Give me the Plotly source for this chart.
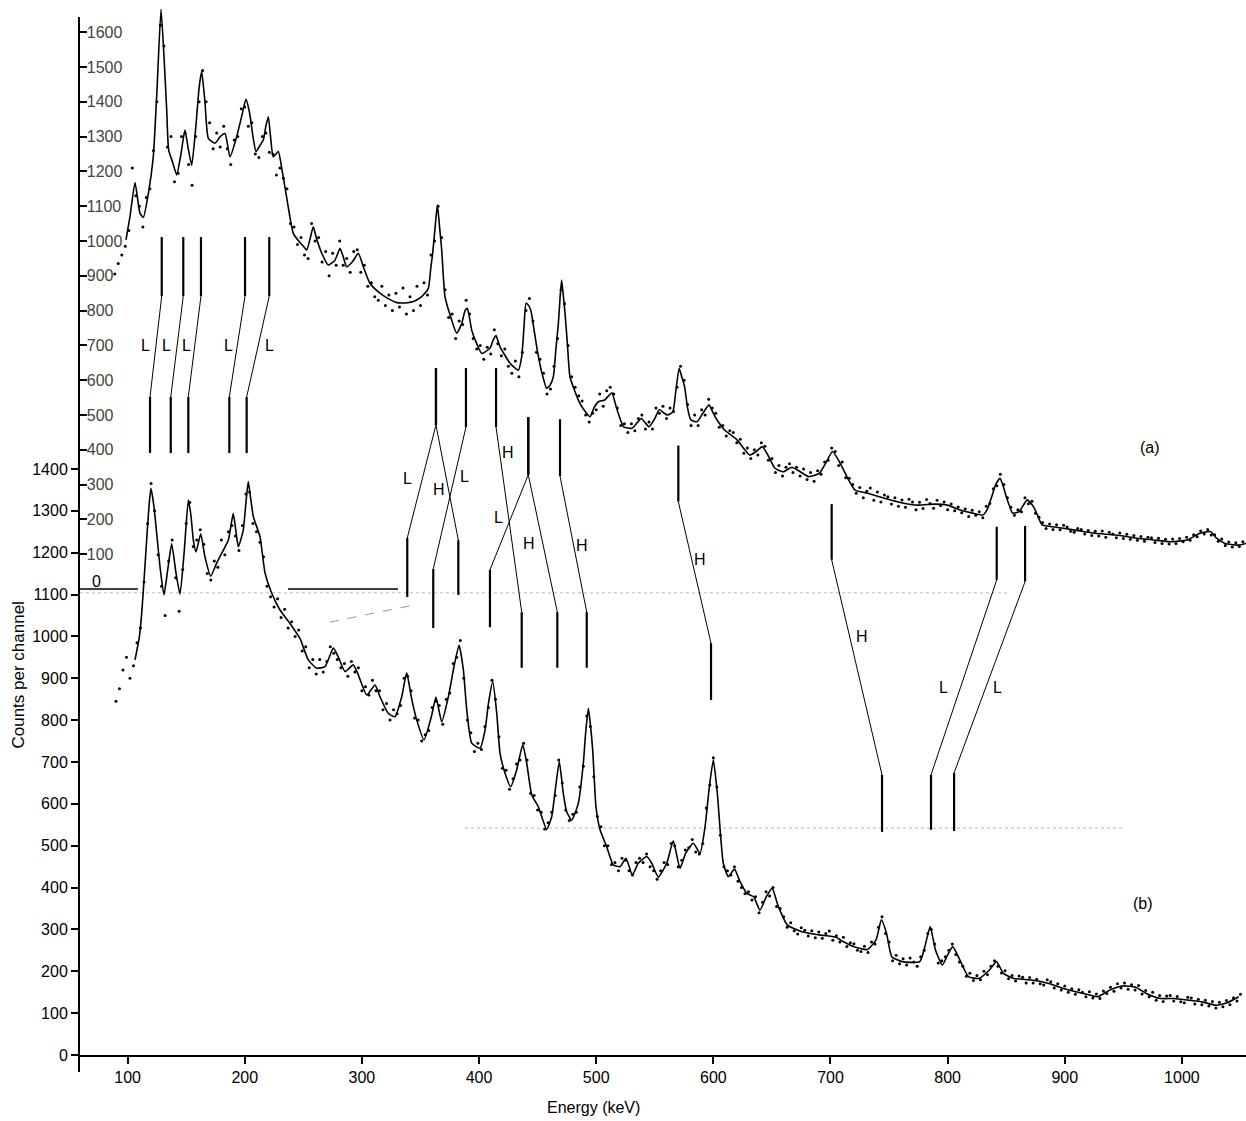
import plotly.graph_objects as go

# ---------------- data ----------------
# Spectrum (a): fitted curve (energy keV, counts per channel on the inner scale)
a_curve_energy = [98.6, 102, 106.3, 110.5, 113.4, 117.7, 121.9, 125.0, 128.5, 131.5,
                  133.3, 135.0, 138.5, 141.9, 145.5, 148.9, 151.5, 154.7, 158.0, 161.0,
                  163.2, 166.0, 168.9, 174.6, 179.0, 183.1, 187.4, 193.1, 197.5, 201.0,
                  204.0, 207.0, 209.6, 213.0, 215.8, 218.0, 220.1, 222.0, 224.3, 228.6,
                  232.0, 236.0, 241.4, 246.0, 250.0, 252.9, 256.0, 258.5, 261.0, 265.7,
                  271.3, 277.0, 281.3, 284.0, 287.0, 292.1, 296.9, 301.2, 306.9, 315.4,
                  322.0, 329.7, 337.0, 344.0, 349.0, 352.4, 356.7, 358.7, 360.4, 362.5,
                  364.4, 366.3, 368.1, 370.9, 375.0, 380.9, 385.2, 388.0, 390.0, 391.8,
                  393.7, 398.0, 402.3, 409.3, 412.0, 414.5, 416.2, 417.9, 426.4, 433.5,
                  436.4, 438.3, 440.1, 442.2, 444.1, 449.2, 453.0, 457.7, 460.5, 463.4,
                  465.6, 467.7, 469.2, 470.5, 472.0, 473.4, 475.5, 477.6, 484.7, 489.5,
                  494.7, 498.0, 501.9, 507.2, 510.5, 513.4, 516.5, 519.8, 523.4, 530.6,
                  538.5, 545.0, 550.0, 553.9, 558.0, 561.1, 565.4, 568.0, 570.8, 573.0,
                  575.5, 578.0, 580.8, 586.2, 591.0, 596.3, 599.0, 602.4, 609.6, 620.4,
                  631.1, 636.5, 641.9, 647.3, 652.6, 659.8, 667.0, 674.2, 681.4, 690.4,
                  695.8, 701.8, 708.3, 715.5, 720.9, 731.6, 746.0, 760.4, 774.7, 789.1,
                  799.8, 810.6, 821.4, 830.4, 834.0, 837.6, 841.0, 844.7, 847.5, 850.1,
                  855.5, 860.9, 864.5, 868.0, 873.4, 877.0, 880.6, 889.6, 907.6, 925.5,
                  943.5, 961.4, 975.8, 990.1, 1004.5, 1015.3, 1024.3, 1029.6, 1036.8, 1047.6,
                  1054.8]
a_curve_counts = [1003, 1070, 1168, 1080, 1068, 1137, 1242, 1430, 1666, 1500,
                  1380, 1262, 1225, 1190, 1250, 1319, 1270, 1218, 1320, 1440,
                  1487, 1400, 1295, 1281, 1300, 1309, 1242, 1300, 1360, 1407,
                  1370, 1300, 1257, 1275, 1290, 1330, 1357, 1300, 1242, 1257,
                  1200, 1120, 1022, 1000, 985, 974, 1010, 1041, 1010, 965,
                  931, 945, 979, 955, 926, 941, 965, 926, 878, 850,
                  835, 823, 822, 826, 835, 845, 864, 920, 965, 1040,
                  1103, 1040, 974, 840, 790, 735, 763, 800, 807, 780,
                  744, 705, 677, 692, 715, 728, 712, 696, 649, 629,
                  668, 750, 821, 815, 802, 696, 630, 577, 585, 610,
                  690, 763, 840, 888, 840, 792, 700, 610, 543, 515,
                  495, 520, 538, 543, 555, 564, 530, 495, 466, 462,
                  490, 466, 490, 516, 505, 500, 509, 570, 634, 610,
                  581, 520, 486, 481, 505, 529, 512, 490, 457, 428,
                  385, 395, 409, 380, 347, 337, 350, 337, 323, 332,
                  361, 395, 361, 313, 284, 275, 261, 248, 241, 244,
                  241, 227, 218, 213, 230, 265, 300, 318, 295, 265,
                  218, 222, 240, 256, 236, 210, 184, 179, 170, 160,
                  155, 146, 141, 136, 141, 160, 165, 146, 131, 126,
                  131]

# Spectrum (a): measured points, one channel every 3 keV from 89 keV
a_dot_energy = list(range(89, 1053, 3))
a_dot_counts = [905, 935, 960, 985, 1030, 1210, 1130, 1100, 1040, 1125,
                1150, 1260, 1400, 1620, 1560, 1270, 1300, 1170, 1195, 1300,
                1310, 1220, 1160, 1300, 1400, 1490, 1400, 1340, 1265, 1310,
                1270, 1330, 1265, 1220, 1290, 1300, 1380, 1385, 1330, 1340,
                1250, 1240, 1300, 1310, 1255, 1250, 1190, 1210, 1180, 1150,
                1050, 1040, 990, 1010, 960, 950, 1050, 1000, 1010, 940,
                970, 900, 965, 930, 1000, 930, 950, 910, 970, 975,
                910, 930, 870, 880, 840, 830, 870, 815, 845, 800,
                850, 810, 865, 790, 840, 800, 870, 815, 880, 845,
                960, 1000, 1100, 1010, 860, 780, 790, 720, 770, 760,
                830, 790, 720, 690, 700, 660, 695, 675, 745, 705,
                670, 690, 640, 620, 655, 610, 680, 800, 835, 770,
                680, 660, 620, 560, 575, 640, 720, 860, 820, 700,
                610, 580, 555, 540, 500, 480, 505, 515, 560, 525,
                570, 580, 560, 520, 470, 475, 450, 475, 455, 490,
                500, 460, 480, 460, 520, 505, 525, 490, 520, 510,
                580, 640, 600, 530, 470, 500, 470, 515, 500, 545,
                520, 505, 465, 470, 440, 455, 450, 420, 430, 390,
                405, 375, 400, 385, 420, 410, 370, 375, 335, 355,
                325, 350, 360, 335, 350, 325, 345, 315, 335, 310,
                340, 330, 365, 370, 405, 395, 355, 365, 320, 318,
                300, 275, 292, 262, 281, 290, 255, 279, 250, 270,
                265, 244, 262, 238, 256, 235, 258, 250, 228, 249,
                231, 257, 246, 232, 255, 240, 250, 228, 244, 225,
                236, 219, 230, 208, 226, 212, 222, 205, 238, 246,
                288, 297, 330, 300, 262, 235, 212, 228, 222, 262,
                245, 252, 218, 206, 191, 174, 187, 171, 185, 170,
                183, 178, 166, 163, 174, 171, 158, 168, 154, 166,
                152, 167, 149, 163, 158, 147, 161, 145, 157, 143,
                154, 140, 151, 137, 149, 147, 134, 146, 131, 143,
                129, 144, 131, 145, 136, 149, 140, 156, 150, 167,
                158, 171, 155, 156, 137, 144, 125, 135, 121, 133,
                122, 136]

# Spectrum (b): fitted curve (energy keV, counts per channel on the outer scale)
b_curve_energy = [106.3, 110.0, 112.0, 114.2, 116.8, 118.5, 119.9, 121.5, 123.4, 127.6,
                  131.0, 134.2, 137.6, 141.3, 144.7, 148.4, 151.8, 154.0, 156.1, 158.4,
                  162.4, 166.0, 170.9, 176.0, 181.7, 186.0, 188.5, 190.2, 192.5, 194.5,
                  198.7, 201.0, 203.0, 205.0, 207.3, 213.0, 217.3, 223.0, 230.1, 238.6,
                  247.1, 254.2, 261.4, 268.5, 275.6, 279.8, 285.6, 292.6, 296.9, 304.1,
                  311.2, 315.4, 322.5, 328.2, 334.0, 338.2, 342.5, 346.8, 353.0, 359.6,
                  363.2, 368.1, 373.8, 378.6, 382.9, 386.6, 389.5, 393.7, 400.8, 405.1,
                  408.0, 411.7, 415.1, 417.9, 422.2, 427.0, 432.1, 437.3, 440.7, 445.0,
                  450.6, 457.7, 462.0, 465.4, 468.5, 471.9, 474.8, 479.1, 484.7, 489.0,
                  491.0, 493.3, 495.0, 497.0, 499.8, 503.3, 508.9, 514.6, 520.3, 525.4,
                  530.8, 535.9, 543.1, 547.4, 553.0, 560.2, 565.8, 571.5, 576.4, 582.9,
                  588.6, 592.9, 596.6, 600.0, 603.4, 608.5, 612.8, 618.0, 622.8, 628.5,
                  634.4, 639.8, 645.2, 650.2, 655.6, 663.1, 674.9, 689.8, 704.7, 710.7,
                  719.6, 731.5, 738.9, 743.4, 747.8, 752.3, 761.2, 776.2, 780.6, 785.1,
                  789.6, 795.5, 800.0, 804.4, 810.4, 817.8, 826.7, 835.7, 841.7, 847.6,
                  856.5, 871.4, 886.3, 901.2, 916.0, 928.0, 938.4, 948.8, 960.6, 969.6,
                  981.5, 993.4, 1005.3, 1017.2, 1029.1, 1038.1, 1048.5]
b_curve_counts = [944, 999, 1055, 1143, 1254, 1320, 1354, 1330, 1286, 1167,
                  1099, 1159, 1221, 1151, 1101, 1206, 1326, 1290, 1230, 1202,
                  1245, 1190, 1144, 1175, 1206, 1230, 1270, 1294, 1250, 1214,
                  1254, 1320, 1370, 1330, 1286, 1238, 1151, 1103, 1063, 1031,
                  995, 944, 924, 928, 972, 951, 916, 932, 908, 860,
                  884, 856, 816, 808, 856, 913, 850, 800, 753, 812,
                  855, 796, 856, 928, 979, 920, 824, 745, 733, 776,
                  840, 892, 816, 721, 673, 641, 681, 741, 697, 621,
                  593, 539, 569, 641, 701, 625, 581, 561, 601, 697,
                  770, 828, 790, 729, 593, 538, 498, 454, 450, 470,
                  430, 458, 474, 458, 425, 458, 512, 446, 482, 506,
                  482, 545, 641, 705, 625, 458, 426, 444, 414, 386,
                  378, 346, 378, 398, 354, 311, 295, 287, 281, 271,
                  259, 252, 275, 323, 291, 235, 223, 223, 259, 307,
                  251, 215, 239, 259, 227, 187, 183, 203, 223, 195,
                  183, 179, 171, 157, 147, 139, 155, 165, 162, 147,
                  135, 135, 131, 127, 119, 124, 139]

# Spectrum (b): measured points, one channel every 3 keV from 90 keV
b_dot_energy = list(range(90, 1051, 3))
b_dot_counts = [845, 875, 920, 950, 900, 930, 985, 1020, 1130, 1270,
                1365, 1300, 1195, 1120, 1050, 1180, 1230, 1140, 1060, 1160,
                1270, 1320, 1215, 1230, 1255, 1220, 1150, 1135, 1180, 1165,
                1230, 1195, 1250, 1265, 1240, 1205, 1265, 1340, 1345, 1270,
                1250, 1225, 1190, 1120, 1095, 1070, 1090, 1045, 1065, 1020,
                1035, 1000, 1015, 965, 975, 925, 945, 910, 945, 915,
                940, 975, 960, 945, 925, 935, 905, 940, 915, 925,
                870, 880, 860, 895, 870, 870, 825, 840, 800, 825,
                815, 835, 900, 905, 870, 805, 800, 750, 765, 775,
                830, 845, 835, 790, 850, 865, 935, 950, 990, 900,
                800, 770, 725, 745, 730, 785, 830, 895, 850, 760,
                685, 680, 635, 660, 695, 705, 745, 705, 625, 620,
                585, 580, 540, 555, 580, 620, 705, 650, 585, 560,
                575, 580, 640, 690, 810, 785, 665, 570, 545, 500,
                500, 455, 460, 440, 470, 465, 440, 430, 460, 470,
                460, 480, 450, 440, 420, 440, 460, 455, 505, 500,
                450, 465, 490, 495, 515, 485, 480, 505, 590, 645,
                710, 640, 525, 450, 440, 430, 450, 415, 400, 385,
                390, 370, 378, 340, 365, 390, 380, 400, 355, 350,
                330, 305, 316, 297, 289, 304, 298, 284, 297, 280,
                294, 279, 290, 296, 274, 285, 270, 281, 259, 268,
                266, 250, 247, 260, 245, 270, 265, 305, 330, 290,
                270, 225, 238, 218, 230, 215, 232, 222, 212, 235,
                250, 290, 300, 265, 220, 225, 235, 250, 265, 240,
                222, 212, 188, 195, 178, 190, 180, 200, 192, 212,
                225, 212, 196, 201, 182, 190, 177, 189, 186, 172,
                185, 172, 181, 170, 167, 180, 175, 160, 170, 155,
                165, 150, 158, 145, 156, 150, 139, 151, 136, 146,
                135, 153, 147, 162, 152, 170, 160, 172, 157, 168,
                155, 166, 146, 154, 139, 150, 131, 142, 128, 141,
                142, 129, 140, 127, 125, 138, 136, 122, 133, 120,
                131, 117, 128, 112, 126, 115, 130, 120, 137, 129,
                145]

# Axis ticks
x_tick_values = [100, 200, 300, 400, 500, 600, 700, 800, 900, 1000]
b_tick_values = [0, 100, 200, 300, 400, 500, 600, 700, 800, 900, 1000, 1100, 1200, 1300, 1400]
a_tick_values = [100, 200, 300, 400, 500, 600, 700, 800, 900, 1000, 1100, 1200, 1300, 1400, 1500, 1600]

# Line correspondences between peaks of (a) and (b) (energies in keV, levels on outer scale)
conn_upper_energy = [129.1, 147.5, 162.6, 200.2, 220.9, 363.2, 363.2, 388.8, 414.5, 442.0,
                     442.0, 469.1, 570.1, 701.0, 841.9, 866.1]
conn_upper_top = [1954, 1954, 1954, 1954, 1954, 1641, 1641, 1641, 1641, 1524,
                  1524, 1519, 1456, 1316, 1262, 1264]
conn_upper_bottom = [1813, 1813, 1813, 1813, 1813, 1505, 1505, 1500, 1500, 1386,
                     1386, 1383, 1322, 1183, 1135, 1131]
conn_lower_energy = [119.1, 136.8, 151.8, 186.8, 201.6, 338.7, 382.3, 360.9, 436.4, 409.3,
                     466.8, 491.9, 598.0, 744.0, 785.8, 805.5]
conn_lower_top = [1572, 1572, 1572, 1572, 1572, 1235, 1230, 1161, 1058, 1159,
                  1058, 1058, 984, 669, 669, 674]
conn_lower_bottom = [1438, 1438, 1438, 1438, 1438, 1094, 1099, 1020, 925, 1022,
                     925, 925, 848, 533, 538, 535]
conn_label = ["L", "L", "L", "L", "L", "L", "H", "L", "H", "L", "H", "H", "H", "H", "L", "L"]
conn_label_energy = [115.4, 133.3, 150.4, 185.9, 220.9, 338.5, 365.8, 387.2, 424.7, 417.0,
                     442.6, 487.9, 588.6, 726.9, 796.1, 842.2]
conn_label_level = [1696, 1696, 1696, 1696, 1696, 1378, 1350, 1381, 1440, 1285,
                    1223, 1218, 1183, 999, 877, 877]

# Zero line of spectrum (a) (solid pieces), energies in keV
a_zero_segments = [(58.5, 108.8), (236.9, 330.8)]
# faint print artefacts (energy pairs, outer-scale levels)
faint_dotted = [((59.3, 853.0), (1104, 1104)), ((388.0, 951.4), (542, 542))]
faint_dashed = ((272.7, 347.9), (1034, 1077))

# ---------------- figure ----------------
FONT = "Liberation Sans, Arial, sans-serif"
fig = go.Figure()

for (ex, lv) in faint_dotted:
    fig.add_trace(go.Scatter(x=list(ex), y=list(lv), mode="lines",
                             line=dict(color="#b8b8b8", width=1, dash="dot"),
                             hoverinfo="skip"))
fig.add_trace(go.Scatter(x=list(faint_dashed[0]), y=list(faint_dashed[1]), mode="lines",
                         line=dict(color="#9a9a9a", width=1, dash="dash"), hoverinfo="skip"))

for seg in a_zero_segments:
    fig.add_trace(go.Scatter(x=list(seg), y=[0, 0], yaxis="y2", mode="lines",
                             line=dict(color="black", width=1.3), hoverinfo="skip"))

# spectrum (b)
fig.add_trace(go.Scatter(x=b_dot_energy, y=b_dot_counts, mode="markers",
                         marker=dict(color="black", size=3), name="(b) data"))
fig.add_trace(go.Scatter(x=b_curve_energy, y=b_curve_counts, mode="lines",
                         line=dict(color="black", width=1.6, shape="spline", smoothing=0.5),
                         name="(b) fit"))

# spectrum (a) on the inner scale
fig.add_trace(go.Scatter(x=a_dot_energy, y=a_dot_counts, yaxis="y2", mode="markers",
                         marker=dict(color="black", size=3), name="(a) data"))
fig.add_trace(go.Scatter(x=a_curve_energy, y=a_curve_counts, yaxis="y2", mode="lines",
                         line=dict(color="black", width=1.6, shape="spline", smoothing=0.5),
                         name="(a) fit"))

# correspondence lines
bars_x, bars_y, slant_x, slant_y = [], [], [], []
for i in range(len(conn_upper_energy)):
    bars_x += [conn_upper_energy[i], conn_upper_energy[i], None,
               conn_lower_energy[i], conn_lower_energy[i], None]
    bars_y += [conn_upper_top[i], conn_upper_bottom[i], None,
               conn_lower_top[i], conn_lower_bottom[i], None]
    slant_x += [conn_upper_energy[i], conn_lower_energy[i], None]
    slant_y += [conn_upper_bottom[i], conn_lower_top[i], None]
fig.add_trace(go.Scatter(x=slant_x, y=slant_y, mode="lines",
                         line=dict(color="black", width=1), hoverinfo="skip"))
fig.add_trace(go.Scatter(x=bars_x, y=bars_y, mode="lines",
                         line=dict(color="black", width=2.2), hoverinfo="skip"))

annotations = []
for lab, ex, lv in zip(conn_label, conn_label_energy, conn_label_level):
    annotations.append(dict(x=ex, y=lv, xref="x", yref="y", text=lab, showarrow=False,
                            xanchor="center", yanchor="middle",
                            font=dict(family=FONT, size=16, color="black")))

annotations += [
    dict(x=972.8, y=1452, xref="x", yref="y", text="(a)", showarrow=False,
         xanchor="center", yanchor="middle", font=dict(family=FONT, size=16, color="black")),
    dict(x=966.8, y=363, xref="x", yref="y", text="(b)", showarrow=False,
         xanchor="center", yanchor="middle", font=dict(family=FONT, size=16, color="black")),
    dict(x=73.4, y=23, xref="x", yref="y2", text="0", showarrow=False,
         xanchor="center", yanchor="middle", font=dict(family=FONT, size=16, color="black")),
    dict(x=498.1, y=-0.0502, xref="x", yref="paper", text="Energy (keV)", showarrow=False,
         xanchor="center", yanchor="middle", font=dict(family=FONT, size=16, color="black")),
    dict(x=-0.0518, y=0.3602, xref="paper", yref="paper", text="Counts per channel",
         textangle=-90, showarrow=False, xanchor="center", yanchor="middle",
         font=dict(family=FONT, size=17, color="black")),
]

fig.update_layout(
    width=1246, height=1121,
    margin=dict(l=79, r=0, t=0, b=66),
    paper_bgcolor="white", plot_bgcolor="white",
    showlegend=False,
    font=dict(family=FONT, size=16, color="black"),
    annotations=annotations,
    xaxis=dict(range=[58.48, 1054.7], tickvals=x_tick_values, ticks="outside", ticklen=7,
               tickwidth=1.5, tickcolor="black", showline=True, linecolor="black", linewidth=2,
               showgrid=False, zeroline=False, automargin=False,
               tickfont=dict(family=FONT, size=16)),
    yaxis=dict(range=[0, 2520.3], tickvals=b_tick_values, ticks="outside", ticklen=7,
               tickwidth=1.5, tickcolor="black", showline=False, showgrid=False,
               zeroline=False, automargin=False, tickfont=dict(family=FONT, size=16)),
    yaxis2=dict(range=[-1339, 1692.5], overlaying="y", side="left", anchor="x",
                tickvals=a_tick_values, ticks="inside", ticklen=8, tickwidth=1.5,
                tickcolor="black", ticklabelposition="inside", showline=False,
                showgrid=False, zeroline=False, automargin=False,
                tickfont=dict(family=FONT, size=16)),
    shapes=[dict(type="line", xref="paper", yref="paper", x0=0, x1=0,
                 y0=-0.0161, y1=0.9839, line=dict(color="black", width=2))],
)

fig.write_html("out.html", config={"displayModeBar": False},
               post_script="document.body.style.margin='0';document.body.style.padding='0';")
